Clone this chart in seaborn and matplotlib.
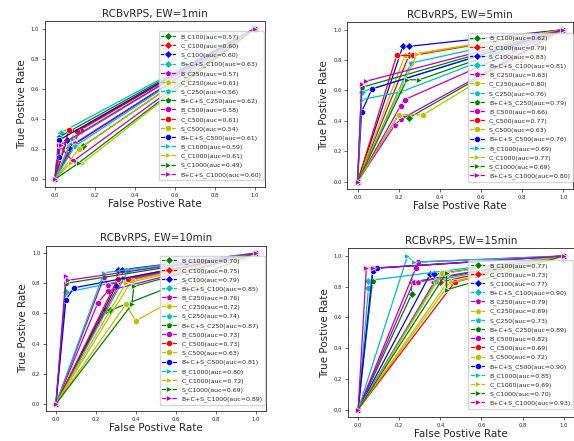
import matplotlib
matplotlib.use('Agg')
import matplotlib.pyplot as plt
import seaborn as sns
import pandas as pd

# series names, colours and markers (same order in every panel)
names = ['B_C100', 'C_C100', 'S_C100', 'B+C+S_C100',
         'B_C250', 'C_C250', 'S_C250', 'B+C+S_C250',
         'B_C500', 'C_C500', 'S_C500', 'B+C+S_C500',
         'B_C1000', 'C_C1000', 'S_C1000', 'B+C+S_C1000']
colors = ['g', 'r', 'b', 'c', 'm', 'y', 'c', 'g',
          'm', 'r', 'y', 'b', 'c', 'y', 'g', 'm']
markers = ['D'] * 4 + ['p'] * 4 + ['o'] * 4 + ['>'] * 4

titles = ['RCBvRPS, EW=1min', 'RCBvRPS, EW=5min',
          'RCBvRPS, EW=10min', 'RCBvRPS, EW=15min']

# auc per panel
auc_1min = [0.57, 0.60, 0.60, 0.63, 0.57, 0.61, 0.56, 0.62,
            0.58, 0.61, 0.54, 0.61, 0.59, 0.61, 0.49, 0.60]
auc_5min = [0.62, 0.79, 0.83, 0.81, 0.63, 0.80, 0.76, 0.79,
            0.66, 0.77, 0.63, 0.76, 0.69, 0.77, 0.69, 0.80]
auc_10min = [0.70, 0.75, 0.79, 0.85, 0.76, 0.72, 0.74, 0.87,
             0.73, 0.73, 0.63, 0.81, 0.80, 0.72, 0.69, 0.89]
auc_15min = [0.77, 0.73, 0.77, 0.90, 0.79, 0.69, 0.73, 0.89,
             0.82, 0.69, 0.72, 0.90, 0.85, 0.69, 0.70, 0.93]

# inner ROC points (curves start at 0,0 and end at 1,1)
fpr_1min = [[0.08, 0.14], [0.13], [0.06, 0.07], [0.03], [0.10], [0.10], [0.10], [0.02],
            [0.02, 0.09], [0.07, 0.11], [0.12], [0.02, 0.02], [0.09], [0.08, 0.14], [0.12], [0.03]]
tpr_1min = [[0.22, 0.22], [0.33], [0.26, 0.21], [0.31], [0.24], [0.32], [0.22], [0.28],
            [0.23, 0.12], [0.33, 0.32], [0.20], [0.15, 0.26], [0.27], [0.11, 0.11], [0.11], [0.23]]

fpr_5min = [[0.20, 0.25], [0.25], [0.22, 0.25], [0.02], [0.18, 0.21], [0.23], [0.26], [0.02],
            [0.21, 0.23], [0.19, 0.27], [0.20, 0.32], [0.02, 0.07], [0.02, 0.21], [0.29], [0.24, 0.30], [0.02, 0.04]]
tpr_5min = [[0.44, 0.42], [0.83], [0.89, 0.89], [0.59], [0.37, 0.41], [0.83], [0.78], [0.62],
            [0.50, 0.54], [0.83, 0.83], [0.44, 0.44], [0.46, 0.61], [0.54, 0.59], [0.84], [0.67, 0.67], [0.64, 0.66]]

fpr_10min = [[0.25, 0.27], [0.33], [0.30, 0.31, 0.33], [0.05], [0.24, 0.26], [0.38], [0.36], [0.05],
             [0.21, 0.26], [0.31, 0.36], [0.35, 0.40], [0.05, 0.09], [0.24], [0.35], [0.38, 0.39], [0.05, 0.06]]
tpr_10min = [[0.62, 0.62], [0.83], [0.78, 0.89, 0.89], [0.74], [0.84, 0.79], [0.82], [0.88], [0.80],
             [0.67, 0.75], [0.83, 0.83], [0.66, 0.55], [0.69, 0.77], [0.87], [0.80], [0.66, 0.78], [0.85, 0.82]]

fpr_15min = [[0.26, 0.26], [0.37, 0.40], [0.35, 0.37], [0.05, 0.05], [0.27, 0.29], [0.45], [0.38], [0.07, 0.07],
             [0.28, 0.29], [0.47], [0.41, 0.43], [0.07, 0.09], [0.24, 0.27], [0.43], [0.43, 0.43], [0.04, 0.07]]
tpr_15min = [[0.75, 0.83], [0.83, 0.83], [0.88, 0.88], [0.79, 0.84], [0.83, 0.83], [0.83], [0.84], [0.84, 0.92],
             [0.92, 0.96], [0.83], [0.89, 0.89], [0.90, 0.92], [1.00, 0.96], [0.82], [0.89, 0.78], [0.92, 0.92]]

panels = [(auc_1min, fpr_1min, tpr_1min), (auc_5min, fpr_5min, tpr_5min),
          (auc_10min, fpr_10min, tpr_10min), (auc_15min, fpr_15min, tpr_15min)]

sns.set_style('ticks')
plt.rcParams['font.family'] = ['DejaVu Sans']

fig = plt.figure(figsize=(5.74, 4.41), dpi=100)
rects = [[0.078, 0.576, 0.383, 0.376], [0.605, 0.571, 0.394, 0.379],
         [0.080, 0.067, 0.383, 0.376], [0.606, 0.054, 0.394, 0.383]]

for rect, title, (auc, fpr, tpr) in zip(rects, titles, panels):
    ax = fig.add_axes(rect)
    for i in range(len(names)):
        xs = [0.0] + fpr[i] + [1.0]
        ys = [0.0] + tpr[i] + [1.0]
        df = pd.DataFrame({'fpr': xs, 'tpr': ys})
        sns.lineplot(data=df, x='fpr', y='tpr', sort=False, estimator=None,
                     color=colors[i], marker=markers[i], markersize=4.5,
                     markeredgewidth=0.5, linewidth=0.9,
                     label='%s(auc=%.2f)' % (names[i], auc[i]), ax=ax)
    ax.set_xlim(-0.05, 1.05)
    ax.set_ylim(-0.05, 1.05)
    ax.set_xticks([0, 0.2, 0.4, 0.6, 0.8, 1.0])
    ax.set_yticks([0, 0.2, 0.4, 0.6, 0.8, 1.0])
    ax.tick_params(labelsize=3.8, length=2, width=0.5, pad=2)
    for s in ax.spines.values():
        s.set_linewidth(0.6)
    ax.set_title(title, fontsize=7.5, pad=3)
    ax.set_xlabel('False Postive Rate', fontsize=7.5, labelpad=1)
    ax.set_ylabel('True Postive Rate', fontsize=7.5, labelpad=3)
    ax.legend(loc='center right', bbox_to_anchor=(1.01, 0.49), fontsize=4.5,
              labelspacing=0.5, handlelength=2.2, borderpad=0.4, framealpha=0.8)

fig.savefig('out.png', dpi=100)
